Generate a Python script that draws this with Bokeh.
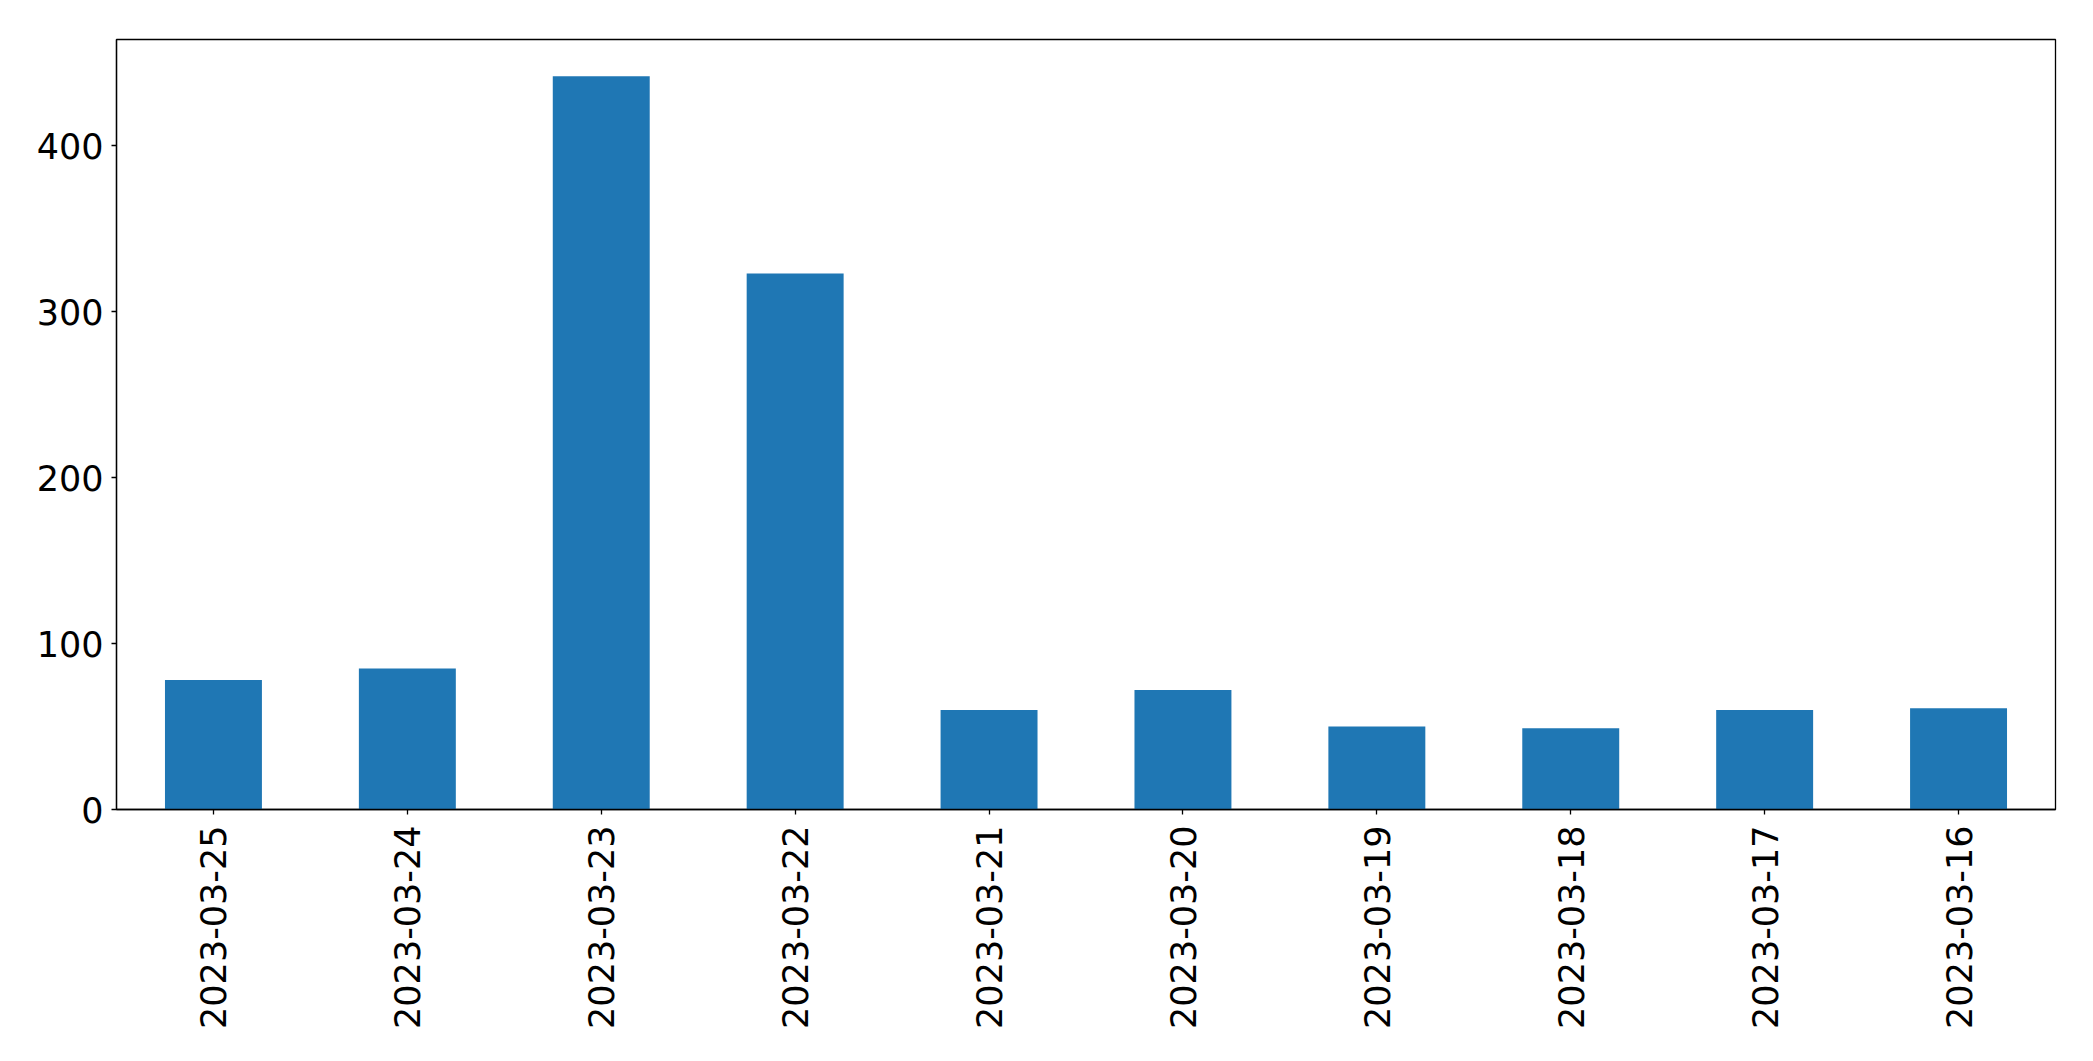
import math
from bokeh.plotting import figure
from bokeh.models import FactorRange, Range1d, FixedTicker, ColumnDataSource
from bokeh.embed import file_html
from bokeh.resources import INLINE

dates = ["2023-03-25", "2023-03-24", "2023-03-23", "2023-03-22", "2023-03-21",
         "2023-03-20", "2023-03-19", "2023-03-18", "2023-03-17", "2023-03-16"]
counts = [78, 85, 442, 323, 60, 72, 50, 49, 60, 61]
y_ticks = [0, 100, 200, 300, 400]

src = ColumnDataSource(data=dict(date=dates, count=counts))

p = figure(
    x_range=FactorRange(*dates, range_padding=0),
    y_range=Range1d(0, max(counts) * 1.05),
    width=2093, height=1053,
    output_backend="svg", toolbar_location=None,
    min_border_left=116, min_border_right=38,
    min_border_top=39, min_border_bottom=244,
)

p.vbar(x="date", top="count", width=0.5, source=src,
       fill_color="#1f77b4", line_color=None)

p.xgrid.visible = False
p.ygrid.visible = False
p.background_fill_color = "white"
p.border_fill_color = "white"
p.outline_line_color = "black"
p.outline_line_width = 1.3
p.outline_line_alpha = 1.0

for ax in (p.xaxis[0], p.yaxis[0]):
    ax.axis_line_color = "black"
    ax.axis_line_width = 1.3
    ax.major_tick_line_color = "black"
    ax.major_tick_line_width = 1.3
    ax.major_tick_out = 5
    ax.major_tick_in = 0
    ax.minor_tick_line_color = None
    ax.major_label_text_font = "DejaVu Sans"
    ax.major_label_text_font_size = "35px"
    ax.major_label_text_color = "black"

p.xaxis.major_label_orientation = math.pi / 2
p.xaxis.major_label_standoff = 11
p.yaxis.major_label_standoff = 8
p.yaxis.ticker = FixedTicker(ticks=y_ticks)

open("out.html", "w").write(file_html(p, INLINE))
